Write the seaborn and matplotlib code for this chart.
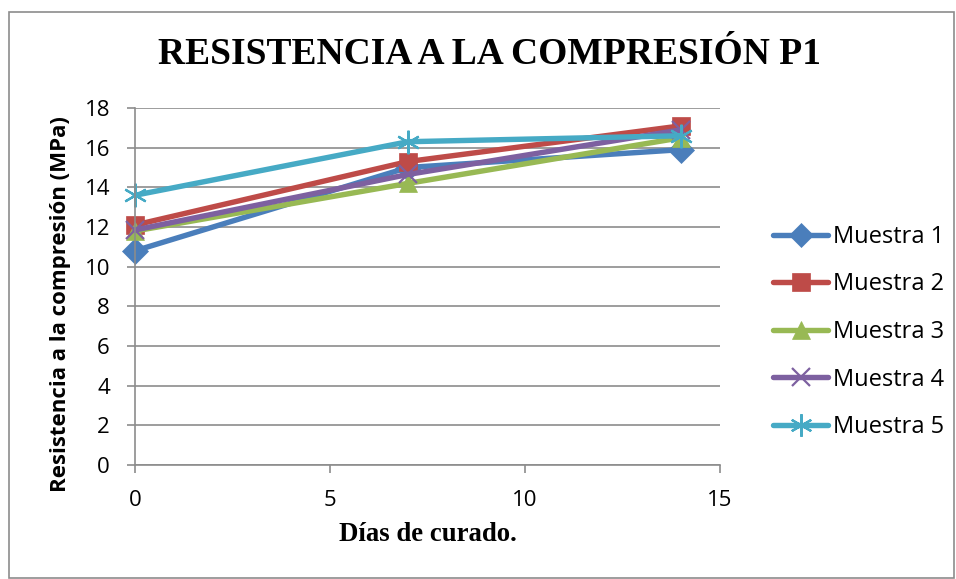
import pandas as pd
import matplotlib
matplotlib.use("Agg")
import matplotlib.pyplot as plt
import seaborn as sns
from matplotlib.patches import Rectangle

# datos
dias = [0, 7, 14]
muestra_1 = [10.8, 15.0, 15.9]
muestra_2 = [12.1, 15.3, 17.1]
muestra_3 = [11.8, 14.2, 16.5]
muestra_4 = [11.85, 14.65, 16.9]
muestra_5 = [13.6, 16.3, 16.6]
nombres = ["Muestra 1", "Muestra 2", "Muestra 3", "Muestra 4", "Muestra 5"]

series = [muestra_1, muestra_2, muestra_3, muestra_4, muestra_5]
colores = ["#4A7EBB", "#BE4B48", "#98B954", "#7D60A0", "#46AAC5"]
marcadores = ["D", "s", "^", "x", (6, 2, 0)]
tamanos = [13, 13, 13, 13, 17]

sns.set_style("white")
plt.rcParams["font.family"] = ["Open Sans", "DejaVu Sans"]
plt.rcParams["text.color"] = "black"
plt.rcParams["axes.labelcolor"] = "black"
plt.rcParams["xtick.color"] = "black"
plt.rcParams["ytick.color"] = "black"

fig = plt.figure(figsize=(9.56, 5.79), dpi=100)
ax = fig.add_axes([135 / 956, 1 - 465 / 579, (720 - 135) / 956, (465 - 108) / 579])

handles = []
for n, vals, c, m, s in zip(nombres, series, colores, marcadores, tamanos):
    df = pd.DataFrame({"dias": dias, "resistencia": vals})
    ew = 1.6 if m in ("x", (6, 2, 0)) else 0.5
    sns.lineplot(data=df, x="dias", y="resistencia", color=c, marker=m, markersize=s,
                 markeredgecolor=c, markeredgewidth=ew, linewidth=3.9, ax=ax, clip_on=False)
    h, = ax.plot([], [], color=c, linewidth=3.9, marker=m, markersize=s * 0.95,
                 markeredgecolor=c, markeredgewidth=ew)
    handles.append(h)

ax.set_xlim(0, 15)
ax.set_ylim(0, 18)
ax.set_xticks([0, 5, 10, 15])
ax.set_yticks(range(0, 19, 2))
ax.grid(axis="y", color="#8c8c8c", linewidth=1.2)
ax.set_axisbelow(True)
for sp in ["top", "right"]:
    ax.spines[sp].set_visible(False)
for sp in ["left", "bottom"]:
    ax.spines[sp].set_color("#8c8c8c")
    ax.spines[sp].set_linewidth(1.2)
ax.tick_params(axis="both", which="both", direction="out", length=6, width=1.2,
               color="#8c8c8c", labelcolor="black", labelsize=16, left=True,
               bottom=True)
ax.tick_params(axis="x", pad=12)
ax.tick_params(axis="y", pad=12)

ax.set_xlabel("Días de curado.", fontsize=19.3, fontweight="bold",
              family=["Liberation Serif", "DejaVu Serif"], labelpad=8)
ax.set_ylabel("Resistencia a la compresión (MPa)", fontsize=16, fontweight="bold")
ax.yaxis.set_label_coords(-0.11, 0.45)

fig.text(490 / 956, 1 - 55 / 579, "RESISTENCIA A LA COMPRESIÓN P1", ha="center",
         va="center", fontsize=27, fontweight="bold",
         family=["Liberation Serif", "DejaVu Serif"])

# leyenda a la derecha
fig.legend(handles, nombres, loc="center left", bbox_to_anchor=(773 / 956, 1 - 332 / 579),
           frameon=False, fontsize=17, handlelength=2.33, handletextpad=0.2,
           labelspacing=1.0, borderaxespad=0, borderpad=0)

fig.patches.append(Rectangle((9 / 956, 0.002), 1 - 11 / 956, 1 - 13 / 579,
                             transform=fig.transFigure, fill=False,
                             edgecolor="#8c8c8c", linewidth=1.2))

fig.savefig("out.png", dpi=100)
